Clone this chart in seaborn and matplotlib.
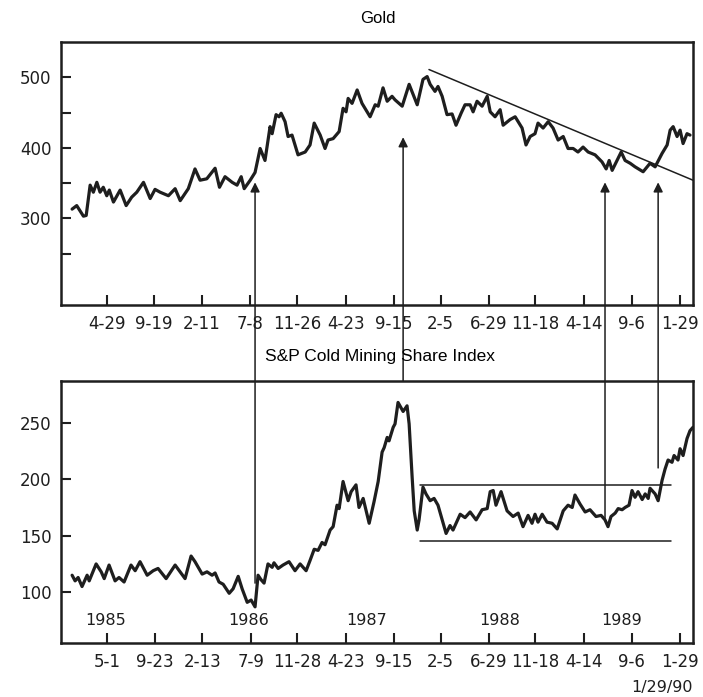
import numpy as np
import pandas as pd
import matplotlib
matplotlib.use("Agg")
import matplotlib.pyplot as plt
from matplotlib.patches import ConnectionPatch
import seaborn as sns

# weekly data, x = weeks since 1985-01-14
START = pd.Timestamp("1985-01-14")

gold_wk = [0, 2.0, 4.9, 6.1, 7.8, 9.2, 10.7, 12.1, 13.5, 15.0, 16.1, 17.9, 20.8, 23.4, 25.8, 28.0,
           30.9, 33.8, 35.9, 38.1, 41.7, 44.6, 46.8, 50.3, 53.2, 55.4, 58.3, 61.9, 63.8, 66.2, 69.3,
           71.4, 73.2, 74.5, 77.1, 79.2, 81.4, 83.5, 85.7, 86.6, 88.3, 89.6, 90.5, 92.2, 93.5, 95.2,
           97.8, 100.9, 103.0, 104.8, 107.4, 109.5, 110.8, 113.0, 115.6, 117.3, 118.6, 119.5, 121.2,
           123.4, 125.5, 129.0, 131.2, 132.5, 134.6, 136.4, 138.5, 139.8, 142.9, 145.9, 149.4, 151.9,
           153.7, 155.0, 157.1, 158.4, 160.2, 162.3, 164.5, 166.2, 168.4, 170.1, 172.3, 173.6, 175.3,
           177.5, 179.7, 181.0, 183.1, 185.3, 186.6, 189.6, 191.8, 194.8, 196.5, 198.3, 200.4, 201.7,
           203.9, 206.1, 208.2, 210.4, 212.6, 214.7, 216.9, 219.0, 221.2, 223.4, 226.4, 229.4, 231.2,
           232.5, 233.8, 235.9, 237.7, 239.4, 241.6, 243.7, 247.2, 250.2, 252.4, 255.4, 257.6, 258.9,
           260.2, 261.9, 263.2, 264.5, 266.2, 267.5]
gold_val = [313, 318, 303, 304, 347, 337, 351, 337, 344, 332, 340, 323, 340, 318, 330, 337,
            351, 328, 341, 337, 332, 342, 325, 342, 370, 354, 356, 371, 344, 359, 351,
            347, 359, 342, 354, 365, 399, 382, 430, 420, 447, 444, 449, 437, 416, 418,
            390, 394, 404, 435, 418, 399, 411, 413, 423, 456, 451, 470, 463,
            482, 463, 444, 461, 459, 485, 466, 473, 468, 459, 490, 461, 497,
            501, 490, 480, 487, 473, 447, 448, 432, 449, 461, 461, 451, 466,
            459, 473, 451, 444, 454, 432, 440, 444, 428, 404, 416, 420, 435,
            428, 437, 428, 411, 416, 399, 399, 394, 401, 394, 390, 380, 370,
            382, 368, 382, 394, 382, 378, 373, 366, 378, 373, 392, 404, 425,
            430, 416, 425, 406, 420, 418]

mine_wk = [0, 1.3, 2.6, 4.3, 6.5, 7.4, 10.4, 12.6, 13.9, 16.0, 18.6, 20.3, 22.5, 25.5, 27.3, 29.4,
           32.5, 35.1, 37.2, 40.7, 44.6, 48.9, 51.5, 53.2, 56.3, 58.4, 60.6, 61.9, 63.6, 65.4, 68.0,
           69.7, 71.9, 73.6, 75.8, 77.5, 79.2, 80.5, 81.8, 83.1, 84.8, 86.6, 87.4, 89.2, 91.3, 93.9,
           96.5, 98.7, 101.3, 103.0, 104.8, 106.5, 108.2, 109.5, 111.7, 113.0, 114.7, 115.6, 117.3,
           119.5, 120.8, 122.9, 124.2, 126.0, 128.6, 130.7, 132.5, 134.2, 135.1, 136.4, 137.2, 139.0,
           139.8, 141.1, 143.3, 145.0, 145.9, 147.2, 148.1, 149.4, 150.2, 151.9, 153.2, 155.0, 156.7,
           158.4, 160.2, 161.9, 163.6, 164.9, 168.0, 170.1, 172.3, 174.9, 177.5, 179.7, 181.0, 182.3,
           183.5, 185.7, 188.3, 190.9, 193.1, 195.2, 197.4, 199.1, 200.4, 201.7, 203.5, 205.6, 207.8,
           210.0, 212.6, 214.7, 216.5, 217.7, 219.9, 222.1, 224.2, 226.8, 229.0, 230.7, 232.0, 233.3,
           235.1, 236.4, 238.1, 239.4, 241.1, 242.4, 243.7, 245.0, 246.8, 248.1, 249.4, 250.2, 252.4,
           253.7, 255.4, 256.7, 258.0, 259.7, 260.6, 262.3, 263.2, 264.5, 266.2, 267.5, 268.8]
mine_val = [115, 110, 113, 105, 115, 110, 125, 118, 112, 124, 110, 113, 109, 124, 119, 127,
            115, 119, 121, 112, 124, 112, 132, 127, 116, 118, 115, 117, 109, 107, 99,
            103, 114, 103, 91, 93, 87, 115, 111, 108, 125, 122, 126, 121, 124, 127,
            119, 125, 119, 128, 138, 137, 144, 142, 155, 158, 177, 174, 198,
            181, 189, 195, 175, 183, 161, 180, 198, 224, 228, 237, 234, 246,
            249, 268, 260, 265, 249, 202, 172, 155, 164, 193, 187, 181, 183,
            177, 164, 152, 159, 155, 169, 166, 171, 164, 173, 174, 189, 190,
            177, 189, 172, 167, 170, 158, 168, 161, 169, 162, 169, 162, 161,
            156, 172, 177, 175, 186, 178, 171, 173, 167, 168, 164, 158, 167,
            170, 174, 173, 175, 177, 190, 184, 189, 182, 187, 183, 192, 187,
            181, 199, 209, 217, 215, 221, 217, 227, 221, 236, 243, 246]

top_tick_dates = ["1985-04-29", "1985-09-19", "1986-02-11", "1986-07-08", "1986-11-26", "1987-04-23",
                  "1987-09-15", "1988-02-05", "1988-06-29", "1988-11-18", "1989-04-14", "1989-09-06",
                  "1990-01-29"]
bot_tick_dates = ["1985-05-01", "1985-09-23", "1986-02-13", "1986-07-09", "1986-11-28", "1987-04-23",
                  "1987-09-15", "1988-02-05", "1988-06-29", "1988-11-18", "1989-04-14", "1989-09-06",
                  "1990-01-29"]
years = ["1985", "1986", "1987", "1988", "1989"]
year_wk = [14.3, 76.6, 127.7, 185.3, 237.7]

trend_wk = [154.5, 268.8]
trend_val = [511, 354]
range_wk = [150.6, 259.3]
range_hi, range_lo = 195, 145

arrow_wk = [79.2, 143.3, 230.7, 253.7]
arrow_from = [108, 287, 163, 210]   # S&P panel
arrow_to = [351, 415, 351, 351]     # gold panel

INK = "#1e1e1e"

def wk(dates):
    return [(pd.Timestamp(d) - START).days / 7 for d in dates]

def lbl(dates):
    return [f"{pd.Timestamp(d).month}-{pd.Timestamp(d).day}" for d in dates]

sns.set_style("ticks")
plt.rcParams["font.family"] = ["DejaVu Sans"]

fig = plt.figure(figsize=(7.03, 6.97), dpi=100)
ax1 = fig.add_axes([0.0868, 0.5624, 0.899, 0.3773])
ax2 = fig.add_axes([0.0868, 0.0775, 0.899, 0.3759])

gold = pd.DataFrame({"week": gold_wk, "price": gold_val})
mine = pd.DataFrame({"week": mine_wk, "index": mine_val})
sns.lineplot(data=gold, x="week", y="price", ax=ax1, color=INK, lw=2.3, estimator=None)
sns.lineplot(data=mine, x="week", y="index", ax=ax2, color=INK, lw=2.3, estimator=None)

ax1.plot(trend_wk, trend_val, color=INK, lw=1.1)
for v in (range_hi, range_lo):
    ax2.plot(range_wk, [v, v], color=INK, lw=1.1)

for ax in (ax1, ax2):
    ax.set_xlim(-4.8, 268.8)
    ax.set_xlabel(""); ax.set_ylabel("")
    for s in ax.spines.values():
        s.set_visible(True); s.set_linewidth(1.8); s.set_color(INK)
    ax.tick_params(direction="in", length=7, width=1.5, colors=INK, labelsize=12, pad=7)

ax1.set_ylim(177, 550)
ax1.set_yticks([250, 300, 350, 400, 450, 500])
ax1.set_yticklabels(["", "300", "", "400", "", "500"])
ax1.set_xticks(wk(top_tick_dates))
ax1.set_xticklabels(lbl(top_tick_dates))

ax2.set_ylim(55, 287)
ax2.set_yticks([100, 150, 200, 250])
ax2.set_xticks(wk(bot_tick_dates))
ax2.set_xticklabels(lbl(bot_tick_dates))
for y, w in zip(years, year_wk):
    ax2.text(w, 75, y, ha="center", va="center", fontsize=11.5, color=INK)

for w, a, b in zip(arrow_wk, arrow_from, arrow_to):
    con = ConnectionPatch(xyA=(w, a), coordsA=ax2.transData, xyB=(w, b), coordsB=ax1.transData,
                          arrowstyle="-|>", mutation_scale=14, lw=1.1, color=INK, shrinkA=0, shrinkB=0)
    fig.add_artist(con)

fig.text(0.538, 0.973, "Gold", ha="center", va="center", fontsize=12, family="Liberation Sans", color="black")
fig.text(0.54, 0.488, "S&P Cold Mining Share Index", ha="center", va="center", fontsize=12.5,
         family="Liberation Sans", color="black")
fig.text(0.986, 0.013, "1/29/90", ha="right", va="center", fontsize=11.5, color=INK)

fig.savefig("out.png", dpi=100)
